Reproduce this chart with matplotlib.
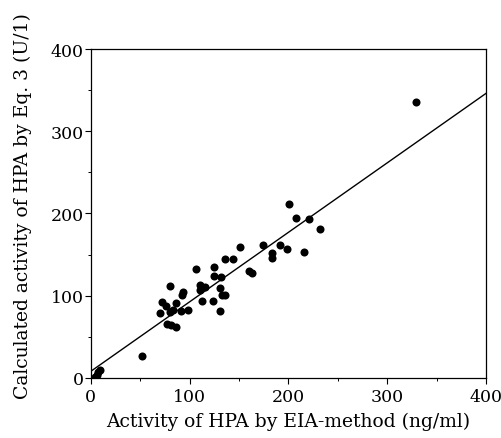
import matplotlib
matplotlib.use("Agg")
import matplotlib.pyplot as plt
from matplotlib.ticker import MultipleLocator
import numpy as np

# EIA-method activity (ng/ml) vs calculated activity by Eq. 3 (U/l)
eia_ng_ml = [4, 6, 7, 9, 52,
             70, 72, 76, 80, 77, 81, 86, 80, 83, 86, 93, 92, 91, 98,
             106, 110, 110, 113, 116, 124, 125, 125, 131, 132, 131, 133, 136,
             136, 144, 151, 160, 163, 174, 183, 183, 192, 199, 201, 208,
             216, 221, 232, 329]
calc_u_l = [1, 4, 7, 9, 27,
            79, 92, 88, 112, 65, 64, 62, 80, 83, 91, 105, 101, 81, 83,
            132, 113, 107, 94, 111, 93, 124, 135, 109, 123, 81, 101, 101,
            145, 145, 159, 130, 128, 162, 152, 146, 162, 157, 212, 195,
            153, 193, 181, 336]

# regression line
fit_intercept = 8.0
fit_slope = 0.845

plt.rcParams['font.family'] = ['DejaVu Serif']

fig = plt.figure(figsize=(5.02, 4.39), dpi=100)
ax = fig.add_axes([0.181, 0.137, 0.787, 0.749])

ax.plot(eia_ng_ml, calc_u_l, 'o', color='black', ms=5.8, mew=0)
xs = np.array([0, 400])
ax.plot(xs, fit_intercept + fit_slope * xs, color='black', lw=1.0)

ax.set_xlim(0, 400)
ax.set_ylim(0, 400)
ax.xaxis.set_major_locator(MultipleLocator(100))
ax.yaxis.set_major_locator(MultipleLocator(100))
ax.xaxis.set_minor_locator(MultipleLocator(50))
ax.yaxis.set_minor_locator(MultipleLocator(50))
ax.tick_params(which='major', direction='out', length=4, width=0.8,
               labelsize=12.5, pad=1)
ax.tick_params(axis='x', which='major', pad=3.5)
ax.tick_params(which='minor', direction='out', length=2.5, width=0.7)
for s in ax.spines.values():
    s.set_linewidth(0.9)

ax.set_xlabel('Activity of HPA by EIA-method (ng/ml)', fontsize=13.5, labelpad=5)
ax.set_ylabel('Calculated activity of HPA by Eq. 3 (U/1)', fontsize=13.5)
ax.yaxis.set_label_coords(-0.148, 0.525)

fig.savefig('out.png', dpi=100, facecolor='white')
